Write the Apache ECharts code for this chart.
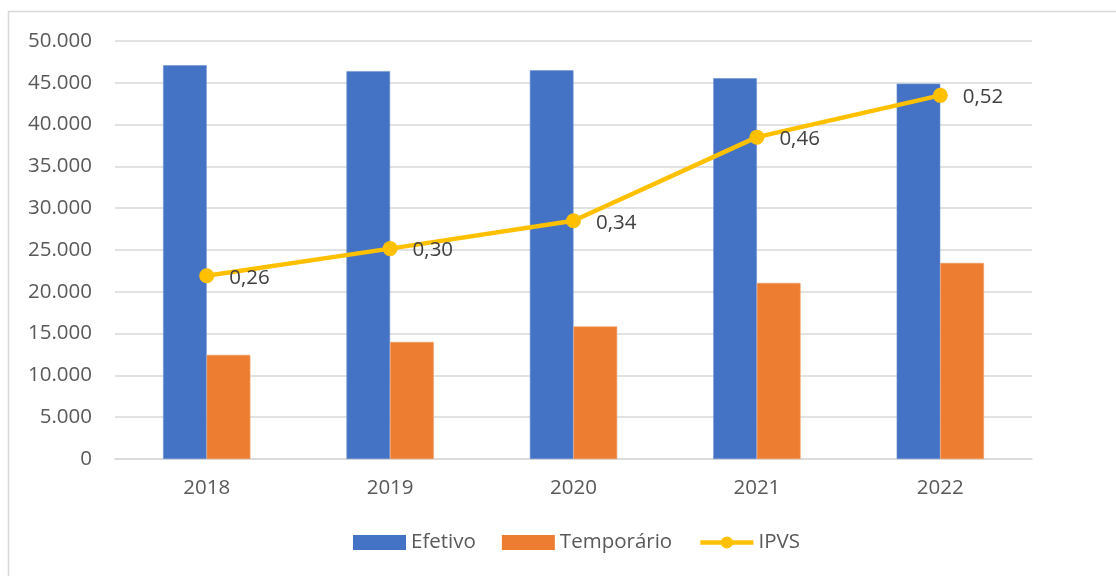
<!DOCTYPE html>
<html>
<head>
<meta charset="utf-8">
<script src="https://cdn.jsdelivr.net/npm/echarts@6/dist/echarts.min.js"></script>
<style>
html,body{margin:0;padding:0;background:#fff;}
#c{width:1116px;height:576px;}
</style>
</head>
<body>
<div id="c"></div>
<script>
const categories = ['2018', '2019', '2020', '2021', '2022'];
const efetivo = [47100, 46400, 46500, 45550, 44900];
const temporario = [12450, 14000, 15850, 21050, 23450];
const ipvs = [0.263, 0.302, 0.342, 0.462, 0.522];
const yTicks = { min: 0, max: 50000, interval: 5000 };

const FONT = '"Open Sans", "Noto Sans", sans-serif';
const FS = 20.5;
const chart = echarts.init(document.getElementById('c'), null, { renderer: 'canvas' });
chart.setOption({
  animation: false,
  backgroundColor: '#ffffff',
  graphic: [{
    type: 'rect', silent: true,
    shape: { x: 8.5, y: 11.5, width: 1200, height: 700 },
    style: { fill: 'none', stroke: '#d9d9d9', lineWidth: 1.5 }
  }],
  grid: { left: 115, right: 84, top: 41, bottom: 117, containLabel: false },
  legend: {
    bottom: 18, left: 348,
    itemWidth: 53, itemHeight: 15, itemGap: 26,
    textStyle: { color: '#595959', fontSize: FS, fontFamily: FONT },
    data: [
      { name: 'Efetivo', icon: 'rect', itemStyle: { color: '#4472C4', borderWidth: 0 } },
      { name: 'Temporário', icon: 'rect', itemStyle: { color: '#ED7D31', borderWidth: 0 } },
      { name: 'IPVS', lineStyle: { width: 4.5, color: '#FFC000' }, itemStyle: { color: '#FFC000' } }
    ]
  },
  xAxis: {
    type: 'category', data: categories,
    axisLine: { lineStyle: { color: '#d9d9d9', width: 1.5 } },
    axisTick: { show: false },
    axisLabel: { color: '#595959', fontSize: FS, fontFamily: FONT, margin: 19 }
  },
  yAxis: [{
    type: 'value', min: yTicks.min, max: yTicks.max, interval: yTicks.interval,
    axisLine: { show: false }, axisTick: { show: false },
    splitLine: { lineStyle: { color: '#d9d9d9', width: 1.5 } },
    axisLabel: {
      color: '#595959', fontSize: FS, fontFamily: FONT, margin: 23,
      formatter: v => v === 0 ? '0' : v.toLocaleString('de-DE')
    }
  }, {
    type: 'value', min: 0, max: 0.6, show: false, splitLine: { show: false }
  }],
  series: [{
    name: 'Efetivo', type: 'bar', data: efetivo,
    barWidth: '23.8%', barGap: '0%',
    itemStyle: { color: '#4472C4', borderColor: '#6f93d3', borderWidth: 0.6 }
  }, {
    name: 'Temporário', type: 'bar', data: temporario,
    barWidth: '23.8%', barGap: '0%',
    itemStyle: { color: '#ED7D31', borderColor: '#f29a5e', borderWidth: 0.6 }
  }, {
    name: 'IPVS', type: 'line', yAxisIndex: 1, data: ipvs,
    symbol: 'circle', symbolSize: 15,
    lineStyle: { color: '#FFC000', width: 4.5 },
    itemStyle: { color: '#FFC000' },
    label: {
      show: true, position: 'right', distance: 15, offset: [0, 2],
      color: '#404040', fontSize: FS, fontFamily: FONT,
      formatter: p => p.value.toFixed(2).replace('.', ',')
    },
    z: 5
  }]
});
</script>
</body>
</html>
